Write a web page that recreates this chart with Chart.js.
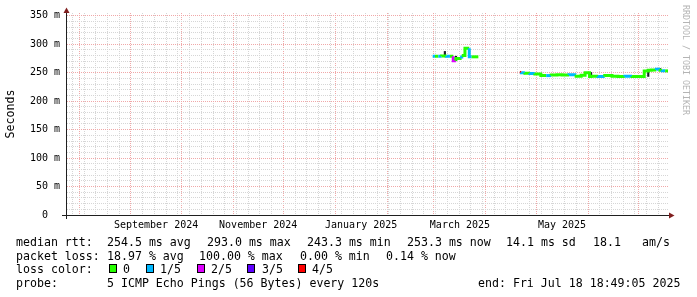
<!DOCTYPE html>
<html><head><meta charset="utf-8">
<script src="https://cdn.jsdelivr.net/npm/chart.js@4.4.1/dist/chart.umd.min.js"></script>
<style>
html,body{margin:0;padding:0;background:#fff;}
#wrap{position:relative;width:697px;height:297px;overflow:hidden;background:#fff;}
canvas{position:absolute;left:0;top:0;}
.t{position:absolute;font-family:"DejaVu Sans Mono",monospace;font-size:11.6px;line-height:14px;color:#000;white-space:pre;}
.sw{position:absolute;width:8px;height:9px;box-sizing:border-box;border:1px solid #000;}
#wm{position:absolute;left:681px;top:5px;writing-mode:vertical-rl;font-family:"DejaVu Sans Mono",monospace;font-size:8.3px;line-height:10px;color:#b4b4b4;white-space:pre;}
</style></head><body>
<div id="wrap"><canvas id="c" width="697" height="297"></canvas><div id="wm">RRDTOOL / TOBI OETIKER</div></div>
<script>
// ---------------- DATA ----------------
const endTime = '2025-07-18T18:49:05Z';
const spanDays = 359;
const times = [
 '2025-02-28T05:00Z','2025-03-01T14:00Z','2025-03-03T14:00Z','2025-03-05T14:00Z','2025-03-08T14:00Z',
 '2025-03-10T13:00Z','2025-03-12T12:00Z','2025-03-14T03:00Z','2025-03-17T12:00Z','2025-03-18T12:00Z',
 '2025-03-19T12:00Z','2025-03-22T02:00Z','2025-03-23T12:00Z','2025-03-27T12:00Z','2025-04-10T00:00Z',
 '2025-04-21T07:00Z','2025-04-22T05:00Z','2025-04-24T08:00Z','2025-04-27T07:00Z','2025-04-30T06:00Z',
 '2025-05-03T20:00Z','2025-05-07T00:00Z','2025-05-10T00:00Z','2025-05-13T12:00Z','2025-05-16T12:00Z',
 '2025-05-20T16:00Z','2025-05-24T22:00Z','2025-05-27T22:00Z','2025-05-30T06:00Z','2025-06-01T22:00Z',
 '2025-06-02T20:00Z','2025-06-07T00:00Z','2025-06-11T00:00Z','2025-06-15T08:00Z','2025-06-18T22:00Z',
 '2025-06-23T00:00Z','2025-06-27T08:00Z','2025-07-01T00:00Z','2025-07-04T14:00Z','2025-07-07T00:00Z',
 '2025-07-08T20:00Z','2025-07-11T20:00Z','2025-07-14T02:00Z','2025-07-15T08:00Z','2025-07-17T02:00Z',
 '2025-07-18T18:49Z'
];
const rttMs = [
 279,279,279,279,279.5,
 279,279,271,275,277.5,
 280.5,293,278,278,null,
 250.5,250.5,250,249,248.5,
 248,245,245,246,246.5,
 246,246.5,244,245.5,250,
 243.3,244,243.5,245,244,
 243.5,244,243.5,243.5,253,
 254.5,255,256,254.5,253.3,
 253.3
];
const lossLevel = [
 1,0,1,0,1,
 0,2,0,1,0,
 0,1,0,0,0,
 4,1,0,1,0,
 0,1,0,0,0,
 1,0,0,0,0,
 0,1,0,0,0,
 1,0,0,0,0,
 0,1,0,1,0,
 0
];
const smokeTimes = ['2025-03-07T12:00Z','2025-03-14T03:00Z','2025-06-02T20:00Z','2025-07-07T00:00Z','2025-07-14T02:00Z'];
const smokeLow  = [278, 271, 243, 243.5, 254];
const smokeHigh = [287.5, 279, 250.5, 253, 257.5];

const lossLabels = ['0','1/5','2/5','3/5','4/5'];
const lossColors = ['#26ff00','#00b8ff','#dd00ff','#5e00ff','#ff0000'];
const yLabelValues = [0,50,100,150,200,250,300,350];
const xLabelMonths = ['2024-09','2024-11','2025-01','2025-03','2025-05'];
const xLabelTexts = ['September 2024','November 2024','January 2025','March 2025','May 2025'];

const statRtt  = ['median rtt:','254.5 ms avg','293.0 ms max','243.3 ms min','253.3 ms now','14.1 ms sd','18.1','am/s'];
const statLoss = ['packet loss:','18.97 % avg','100.00 % max','0.00 % min','0.14 % now'];
const lossTitle = 'loss color:';
const probeInfo = ['probe:','5 ICMP Echo Pings (56 Bytes) every 120s','end: Fri Jul 18 18:49:05 2025'];

// ---------------- LAYOUT ----------------
const rttX  = [16,107,207,307,407,506,593,642];
const lossX = [16,107,199,300,386];
const probeX = [16,107,478];
const swatchX = [109,146,197,247,298];
const swatchLabelX = [123,160,211,262,312];
const rowTop = [235,248.5,262.3,276.3];

const wrap = document.getElementById('wrap');
function addText(txt, x, y){ const d=document.createElement('div'); d.className='t'; d.textContent=txt; d.style.left=x+'px'; d.style.top=y+'px'; wrap.appendChild(d); }
statRtt.forEach((s,i)=>addText(s, rttX[i], rowTop[0]));
statLoss.forEach((s,i)=>addText(s, lossX[i], rowTop[1]));
addText(lossTitle, 16, rowTop[2]);
lossLabels.forEach((s,i)=>{
  const b=document.createElement('div'); b.className='sw'; b.style.left=swatchX[i]+'px'; b.style.top='264px'; b.style.background=lossColors[i]; wrap.appendChild(b);
  addText(s, swatchLabelX[i], rowTop[2]);
});
probeInfo.forEach((s,i)=>addText(s, probeX[i], rowTop[3]));

// ---------------- SCALES ----------------
const DAY = 86400000;
const endMs = Date.parse(endTime);
const startMs = endMs - spanDays*DAY;

const monthStarts = [];
for (let y=2024;y<=2025;y++) for (let m=0;m<12;m++){ const t=Date.UTC(y,m,1); if(t>startMs && t<endMs) monthStarts.push(t); }
const monthSet = new Set(monthStarts);
const sd = new Date(startMs);
let w = Date.UTC(sd.getUTCFullYear(), sd.getUTCMonth(), sd.getUTCDate());
w += ((7 - new Date(w).getUTCDay()) % 7) * DAY;
if (w < startMs) w += 7*DAY;
const weekValues = [];
for (; w < endMs; w += 7*DAY) if (!monthSet.has(w)) weekValues.push(w);
const labelMap = new Map();
const labelValues = [];
xLabelMonths.forEach((ym,i)=>{
  const [y,m] = ym.split('-').map(Number);
  const t = (Date.UTC(y,m-1,1) + Date.UTC(y,m,1))/2;
  labelMap.set(t, xLabelTexts[i]);
  labelValues.push(t);
});
const minorY = [];
for (let v=0; v<=350; v+=10) if (!yLabelValues.includes(v)) minorY.push(v);

const GRID_MINOR = 'rgb(214,214,214)';
const GRID_MAJOR = 'rgb(240,168,168)';

const medianData = times.map((t,i)=>({x:Date.parse(t), y:rttMs[i]}));
const smokeData = smokeTimes.map((t,i)=>({x:Date.parse(t), y:[smokeLow[i], smokeHigh[i]]}));

const axesPlugin = {
  id:'rrdaxes',
  afterDraw(chart){
    const {ctx, chartArea:{left,right,top,bottom}} = chart;
    ctx.save();
    ctx.strokeStyle='#1f1f1f'; ctx.lineWidth=1;
    ctx.beginPath();
    ctx.moveTo(left-5, bottom+0.5); ctx.lineTo(right+2, bottom+0.5);
    ctx.moveTo(left-0.5, bottom+4); ctx.lineTo(left-0.5, top);
    ctx.stroke();
    ctx.fillStyle='#801f1f';
    ctx.beginPath(); ctx.moveTo(right+1, bottom-2.5); ctx.lineTo(right+6.5, bottom+0.5); ctx.lineTo(right+1, bottom+3.5); ctx.closePath(); ctx.fill();
    ctx.beginPath(); ctx.moveTo(left-3.5, top); ctx.lineTo(left-0.5, top-5.5); ctx.lineTo(left+2.5, top); ctx.closePath(); ctx.fill();
    ctx.restore();
  }
};

const FONT = {family:'"DejaVu Sans Mono", monospace', size:10};

new Chart(document.getElementById('c'), {
  type:'line',
  data:{ datasets:[
    { type:'line', label:'median rtt', data:medianData, order:0,
      stepped:'after', borderWidth:3, pointRadius:0, spanGaps:false,
      borderColor:lossColors[0], borderCapStyle:'butt', borderJoinStyle:'miter',
      segment:{ borderColor: c => lossColors[lossLevel[c.p0DataIndex]] } },
    { type:'bar', label:'smoke', data:smokeData, order:1,
      backgroundColor:'#1b1b2a', borderWidth:0, barThickness:1.5 }
  ]},
  options:{
    responsive:false, animation:false, devicePixelRatio:1,
    layout:{ padding:{left:0, right:29, top:13, bottom:0} },
    plugins:{ legend:{display:false}, tooltip:{enabled:false} },
    scales:{
      xw:{ type:'linear', position:'bottom', axis:'x', min:startMs, max:endMs, offset:false,
          afterBuildTicks: s => { s.ticks = weekValues.map(v=>({value:v})); },
          afterFit: s => { s.height = 0; },
          ticks:{ display:false },
          grid:{ drawTicks:false, color:GRID_MINOR, lineWidth:1 },
          border:{ display:false, dash:[1,1] } },
      xm:{ type:'linear', position:'bottom', axis:'x', min:startMs, max:endMs, offset:false,
          afterBuildTicks: s => { s.ticks = monthStarts.map(v=>({value:v})); },
          afterFit: s => { s.height = 0; },
          ticks:{ display:false },
          grid:{ drawTicks:false, color:GRID_MAJOR, lineWidth:1 },
          border:{ display:false, dash:[1,1] } },
      x:{ type:'linear', position:'bottom', min:startMs, max:endMs, offset:false,
          afterBuildTicks: s => { s.ticks = labelValues.map(v=>({value:v})); },
          afterFit: s => { s.height = 82; },
          ticks:{ autoSkip:false, maxRotation:0, minRotation:0, padding:4, color:'#000', font:FONT,
                  callback:(v)=> labelMap.get(v) || '' },
          grid:{ display:false, drawTicks:false },
          border:{ display:false } },
      ym:{ type:'linear', position:'left', axis:'y', min:0, max:355,
          afterBuildTicks: s => { s.ticks = minorY.map(v=>({value:v})); },
          afterFit: s => { s.width = 0; },
          ticks:{ display:false },
          grid:{ drawTicks:false, color:GRID_MINOR },
          border:{ display:false, dash:[1,1] } },
      y:{ type:'linear', position:'left', min:0, max:355,
          afterBuildTicks: s => { s.ticks = yLabelValues.map(v=>({value:v})); },
          afterFit: s => { s.width = 67; },
          title:{ display:true, text:'Seconds', color:'#000', padding:{top:4,bottom:0},
                  font:{family:'"DejaVu Sans Mono", monospace', size:11.6} },
          ticks:{ autoSkip:false, padding:7, color:'#000', font:FONT,
                  callback:(v)=> v===0 ? '0  ' : v+' m' },
          grid:{ drawTicks:false, color:GRID_MAJOR },
          border:{ display:false, dash:[1,1] } }
    }
  },
  plugins:[axesPlugin]
});
</script>
</body></html>
